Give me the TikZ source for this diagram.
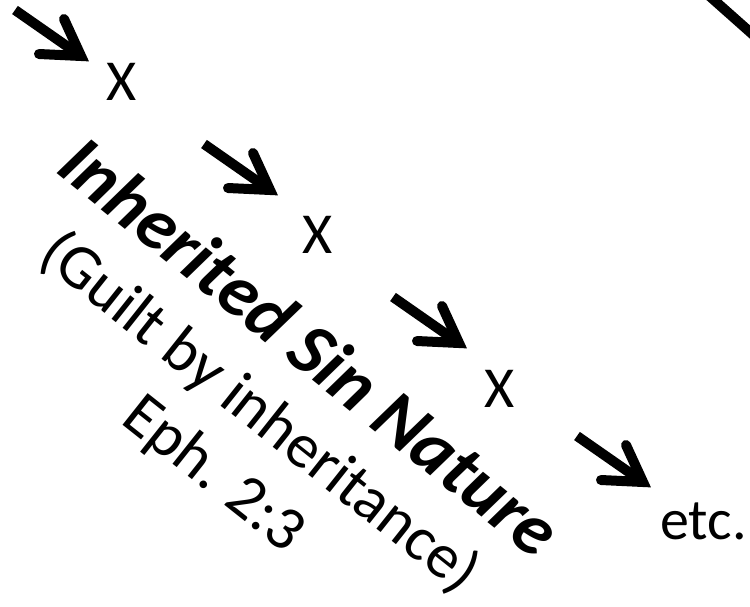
\documentclass[tikz,border=0pt]{standalone}
\usepackage{fontspec}
\setmainfont{Carlito}
\usetikzlibrary{calc}
\begin{document}
\begin{tikzpicture}[x=1pt,y=-1pt,
  shaft/.style={line width=10pt,line cap=butt},
  barbs/.style={line width=10pt,line cap=round,line join=miter,miter limit=20},
  xlabel/.style={inner sep=0pt,anchor=base west,font=\fontsize{58}{70}\selectfont},
  titletext/.style={inner sep=0pt,anchor=base west,rotate=-39,font=\fontsize{74}{88}\selectfont\bfseries\itshape},
  subtext/.style={inner sep=0pt,anchor=base west,rotate=-38.4,font=\fontsize{63}{76}\selectfont}]
\useasboundingbox (0,0) rectangle (750,606);
\clip (0,0) rectangle (750,606);
\fill[white] (0,0) rectangle (750,606);
\newcommand\arrowglyph[2]{%
  \coordinate (J) at (#1,#2);
  \draw[shaft] ($(J)+(-66,-46)$) -- (J);
  \draw[barbs] ($(J)+(-17,-37)$) -- (J) -- ($(J)+(-42,-2)$);}
\arrowglyph{81}{56}
\arrowglyph{270}{190}
\arrowglyph{459}{343}
\arrowglyph{643}{482}
\coordinate (big1) at (700,-12.4);
\coordinate (big2) at (770,49.8);
\draw[shaft] (big1) -- (big2);
\node[xlabel] (x1) at (106,100) {X};
\node[xlabel] (x2) at (302,253) {X};
\node[xlabel] (x3) at (484,407) {X};
\node[xlabel] (etc) at (660,539) {etc.};
\node[titletext] (title) at (54,171) {Inherited Sin Nature};
\node[subtext] (guilt) at (36,259) {(Guilt by inheritance)};
\node[subtext] (eph) at (119,422) {Eph. 2:3};
\end{tikzpicture}
\end{document}
